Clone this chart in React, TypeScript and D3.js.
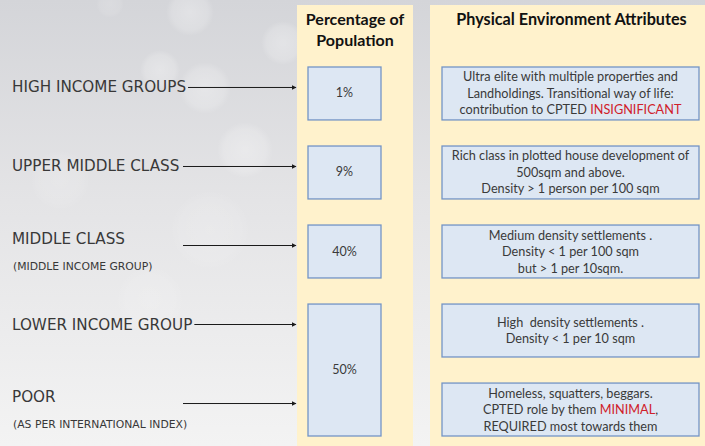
import { useRef, useEffect } from 'react';
import * as d3 from 'd3';

const groups = ['HIGH INCOME GROUPS', 'UPPER MIDDLE CLASS', 'MIDDLE CLASS', 'LOWER INCOME GROUP', 'POOR'];
const groupNotes = ['', '', '(MIDDLE INCOME GROUP)', '', '(AS PER INTERNATIONAL INDEX)'];
const shares = ['1%', '9%', '40%', '50%'];
const shareRows = [[0, 0], [1, 1], [2, 2], [3, 4]];
const shareTitle = ['Percentage of', 'Population'];
const attrTitle = ['Physical Environment Attributes'];
const attributes = [
  ['Ultra elite with multiple properties and', 'Landholdings. Transitional way of life:', 'contribution to CPTED INSIGNIFICANT'],
  ['Rich class in plotted house development of', '500sqm and above.', 'Density > 1 person per 100 sqm'],
  ['Medium density settlements .', 'Density < 1 per 100 sqm', 'but > 1 per 10sqm.'],
  ['High  density settlements .', 'Density < 1 per 10 sqm'],
  ['Homeless, squatters, beggars.', 'CPTED role by them MINIMAL,', 'REQUIRED most towards them'],
];
const highlights = ['INSIGNIFICANT', 'MINIMAL'];

export default function App() {
  const ref = useRef<SVGSVGElement>(null);

  useEffect(() => {
    if (!ref.current) return;
    const width = 705;
    const height = 446;
    const labelFont = '"DejaVu Sans", sans-serif';
    const bodyFont = 'Lato, "Open Sans", sans-serif';

    d3.select(ref.current).selectAll('*').remove();
    const svg = d3.select(ref.current).attr('width', width).attr('height', height);
    const defs = svg.append('defs');

    const bg = defs.append('linearGradient').attr('id', 'bg').attr('x1', 0).attr('y1', 0).attr('x2', 0).attr('y2', 1);
    bg.append('stop').attr('offset', '0%').attr('stop-color', '#d4d5d9');
    bg.append('stop').attr('offset', '45%').attr('stop-color', '#e4e4e6');
    bg.append('stop').attr('offset', '100%').attr('stop-color', '#f3f3f3');

    const glow = defs.append('radialGradient').attr('id', 'glow');
    glow.append('stop').attr('offset', '0%').attr('stop-color', '#fff').attr('stop-opacity', 0.6);
    glow.append('stop').attr('offset', '75%').attr('stop-color', '#fff').attr('stop-opacity', 0.35);
    glow.append('stop').attr('offset', '100%').attr('stop-color', '#fff').attr('stop-opacity', 0);

    defs
      .append('marker')
      .attr('id', 'arrow')
      .attr('viewBox', '0 0 10 10')
      .attr('refX', 9)
      .attr('refY', 5)
      .attr('markerWidth', 5)
      .attr('markerHeight', 5)
      .attr('markerUnits', 'userSpaceOnUse')
      .attr('orient', 'auto')
      .append('path')
      .attr('d', 'M0,0L10,5L0,10Z')
      .attr('fill', '#1a1a1a');

    svg.append('rect').attr('width', width).attr('height', height).attr('fill', 'url(#bg)');

    // soft bokeh spots behind the labels
    const spots = [
      [190, 12, 24], [283, 43, 22], [160, 70, 20], [205, 88, 26], [245, 150, 28],
      [110, 4, 14], [60, 180, 30], [210, 230, 40], [150, 300, 34],
    ];
    svg
      .append('g')
      .selectAll('circle')
      .data(spots)
      .join('circle')
      .attr('cx', (d) => d[0])
      .attr('cy', (d) => d[1])
      .attr('r', (d) => d[2])
      .attr('fill', 'url(#glow)')
      .attr('opacity', (d, i) => (i < 5 ? 0.5 : 0.25));

    const y = d3
      .scaleBand<number>()
      .domain(d3.range(groups.length))
      .range([67, 436])
      .paddingInner(0.33)
      .paddingOuter(0);

    const col = d3
      .scaleOrdinal<string, [number, number]>()
      .domain(['share', 'attr'])
      .range([[297, 413], [430, 705]]);

    // columns
    svg
      .append('g')
      .selectAll('rect')
      .data(col.domain())
      .join('rect')
      .attr('x', (d) => col(d)[0])
      .attr('y', 5)
      .attr('width', (d) => col(d)[1] - col(d)[0])
      .attr('height', height - 5)
      .attr('fill', '#fff2cc');

    const shareMid = (col('share')[0] + col('share')[1]) / 2;
    const attrMid = (col('attr')[0] + col('attr')[1]) / 2;

    svg
      .append('g')
      .selectAll('text')
      .data(shareTitle)
      .join('text')
      .attr('x', shareMid)
      .attr('y', (d, i) => 25 + i * 21)
      .attr('text-anchor', 'middle')
      .attr('font-family', bodyFont)
      .attr('font-weight', 700)
      .attr('font-size', 16)
      .attr('fill', '#111')
      .text((d) => d);

    svg
      .append('g')
      .selectAll('text')
      .data(attrTitle)
      .join('text')
      .attr('x', attrMid + 4)
      .attr('y', 25)
      .attr('text-anchor', 'middle')
      .attr('font-family', bodyFont)
      .attr('font-weight', 700)
      .attr('font-size', 16.2)
      .attr('fill', '#111')
      .text((d) => d);

    // percentage boxes
    const boxFill = '#dde7f3';
    const boxStroke = '#7394c6';
    const shareX0 = col('share')[0] + 11;
    const shareW = 73;
    const sg = svg.append('g').selectAll('g').data(shares).join('g');
    sg.append('rect')
      .attr('x', shareX0)
      .attr('y', (d, i) => y(shareRows[i][0])!)
      .attr('width', shareW)
      .attr('height', (d, i) => y(shareRows[i][1])! + y.bandwidth() - y(shareRows[i][0])!)
      .attr('fill', boxFill)
      .attr('stroke', boxStroke)
      .attr('stroke-width', 1.3);
    sg.append('text')
      .attr('x', shareX0 + shareW / 2)
      .attr('y', (d, i) => (y(shareRows[i][0])! + y(shareRows[i][1])! + y.bandwidth()) / 2 + 4)
      .attr('text-anchor', 'middle')
      .attr('font-family', bodyFont)
      .attr('font-size', 12.5)
      .attr('fill', '#3a3a3a')
      .text((d) => d);

    // attribute boxes
    const attrX0 = col('attr')[0] + 12;
    const attrW = 257;
    const hl = new RegExp(`(${highlights.join('|')})`);
    const ag = svg.append('g').selectAll('g').data(attributes).join('g');
    ag.append('rect')
      .attr('x', attrX0)
      .attr('y', (d, i) => y(i)!)
      .attr('width', attrW)
      .attr('height', y.bandwidth())
      .attr('fill', boxFill)
      .attr('stroke', boxStroke)
      .attr('stroke-width', 1.3);
    ag.each(function (lines, i) {
      const cy = y(i)! + y.bandwidth() / 2;
      const lh = 16.5;
      const t = d3
        .select(this)
        .selectAll('text')
        .data(lines)
        .join('text')
        .attr('x', attrX0 + attrW / 2)
        .attr('y', (d, k) => cy + (k - (lines.length - 1) / 2) * lh + 4.5)
        .attr('text-anchor', 'middle')
        .attr('font-family', bodyFont)
        .attr('font-size', 12.7)
        .attr('fill', '#3a3a3a')
        .style('white-space', 'pre');
      t.each(function (line) {
        d3.select(this)
          .selectAll('tspan')
          .data(line.split(hl).filter((s) => s !== ''))
          .join('tspan')
          .attr('fill', (s) => (highlights.includes(s) ? '#d0202a' : null))
          .text((s) => s);
      });
    });

    // left labels and arrows
    const lg = svg.append('g').selectAll('g').data(groups).join('g');
    lg.each(function (label, i) {
      const g = d3.select(this);
      const c = y(i)! + y.bandwidth() / 2;
      const note = groupNotes[i];
      const main = g
        .append('text')
        .attr('x', 12)
        .attr('y', note ? c - 8 : c - 1)
        .attr('font-family', labelFont)
        .attr('font-size', 15.2)
        .attr('fill', '#383838')
        .text(label);
      if (note) {
        g.append('text')
          .attr('x', 13)
          .attr('y', c + 18)
          .attr('font-family', labelFont)
          .attr('font-size', 10.8)
          .attr('fill', '#383838')
          .text(note);
      }
      const end = 12 + (main.node() as SVGTextElement).getComputedTextLength();
      // arrows hug long labels, otherwise start at a common column
      const start = end > 183 ? end + 2 : 183;
      g.append('line')
        .attr('x1', start)
        .attr('x2', col('share')[0] - 1)
        .attr('y1', c - 6)
        .attr('y2', c - 6)
        .attr('stroke', '#1a1a1a')
        .attr('stroke-width', 1)
        .attr('marker-end', 'url(#arrow)');
    });
  }, []);

  return <svg ref={ref} style={{ position: 'absolute', left: 0, top: 0, display: 'block' }}></svg>;
}
